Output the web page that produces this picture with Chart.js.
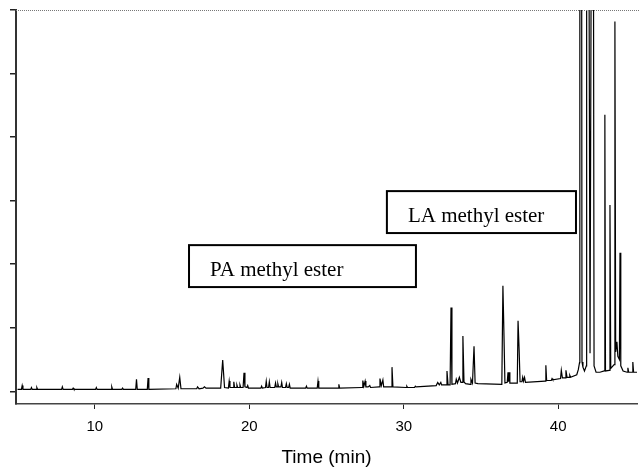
<!DOCTYPE html>
<html>
<head>
<meta charset="utf-8">
<script src="https://cdn.jsdelivr.net/npm/chart.js@4/dist/chart.umd.min.js"></script>
<style>
html,body{margin:0;padding:0;background:#fff;}
canvas{display:block;}
</style>
</head>
<body>
<canvas id="c" width="639" height="473"></canvas>
<script>
// Retention time (min) and detector signal (arbitrary units, axis 0..6)
const chromatogram = [
[5.0,0.03],[5.25,0.03],[5.3,0.09],[5.35,0.03],[5.85,0.03],[5.9,0.06],[5.95,0.03],
[6.2,0.03],[6.25,0.06],[6.3,0.03],[7.85,0.03],[7.9,0.07],[7.95,0.03],[8.55,0.03],
[8.6,0.05],[8.65,0.03],[10.05,0.03],[10.1,0.06],[10.15,0.03],[11.05,0.03],[11.1,0.07],
[11.15,0.03],[11.75,0.03],[11.8,0.05],[11.85,0.03],[12.65,0.03],[12.7,0.19],[12.75,0.03],
[13.4,0.03],[13.45,0.21],[13.5,0.03],[15.25,0.04],[15.3,0.11],[15.4,0.05],[15.5,0.22],
[15.58,0.04],[16.6,0.04],[16.65,0.07],[16.75,0.04],[17.0,0.05],[17.1,0.07],[17.2,0.05],
[18.15,0.05],[18.28,0.49],[18.4,0.06],[18.65,0.05],[18.7,0.16],[18.75,0.06],[18.95,0.06],
[19.0,0.15],[19.05,0.06],[19.15,0.06],[19.2,0.10],[19.25,0.06],[19.35,0.06],[19.4,0.10],
[19.45,0.06],[19.6,0.06],[19.66,0.29],[19.72,0.07],[19.85,0.06],[19.9,0.09],[19.95,0.05],
[20.75,0.05],[20.8,0.08],[20.85,0.05],[21.05,0.06],[21.1,0.16],[21.15,0.06],[21.25,0.06],
[21.3,0.15],[21.35,0.06],[21.65,0.06],[21.7,0.13],[21.75,0.07],[21.8,0.07],[21.85,0.12],
[21.9,0.07],[22.05,0.07],[22.1,0.14],[22.15,0.06],[22.35,0.06],[22.4,0.12],[22.45,0.06],
[22.55,0.06],[22.6,0.11],[22.65,0.05],[23.65,0.05],[23.7,0.08],[23.75,0.05],[24.4,0.05],
[24.45,0.16],[24.5,0.05],[25.75,0.05],[25.8,0.11],[25.85,0.05],[27.3,0.06],[27.35,0.17],
[27.42,0.08],[27.5,0.16],[27.55,0.07],[27.7,0.07],[27.8,0.09],[27.85,0.06],[28.4,0.07],
[28.46,0.20],[28.55,0.09],[28.65,0.18],[28.7,0.07],[29.18,0.07],[29.24,0.38],[29.3,0.07],
[30.15,0.06],[30.2,0.08],[30.25,0.06],[30.7,0.06],[30.75,0.08],[30.8,0.07],[32.1,0.09],
[32.2,0.14],[32.3,0.10],[32.4,0.14],[32.45,0.10],[32.75,0.10],[32.8,0.32],[32.87,0.10],
[33.0,0.10],[33.06,1.32],[33.12,0.11],[33.35,0.12],[33.4,0.19],[33.48,0.13],[33.6,0.22],
[33.7,0.14],[33.78,0.14],[33.83,0.87],[33.9,0.15],[34.0,0.12],[34.3,0.11],[34.35,0.19],
[34.45,0.13],[34.55,0.71],[34.62,0.13],[34.8,0.12],[36.35,0.11],[36.42,1.66],[36.47,1.10],
[36.55,0.13],[36.7,0.14],[36.75,0.30],[36.78,0.15],[36.82,0.30],[36.87,0.13],[37.35,0.13],
[37.4,1.11],[37.47,0.65],[37.53,0.15],[37.65,0.15],[37.7,0.22],[37.75,0.16],[37.82,0.22],
[37.88,0.14],[39.15,0.16],[39.2,0.41],[39.25,0.17],[39.55,0.17],[39.6,0.20],[39.65,0.18],
[40.15,0.20],[40.2,0.33],[40.27,0.21],[40.45,0.21],[40.5,0.33],[40.57,0.22],[40.7,0.22],
[40.75,0.25],[40.8,0.22],[41.2,0.26],[41.3,0.34],[41.38,0.45],[41.40,9.0],[41.51,9.0],
[41.54,0.46],[41.6,0.38],[41.7,0.32],[41.82,0.4],[41.84,9.0],[41.97,9.0],[42.06,0.6],
[42.16,9.0],[42.27,9.0],[42.32,0.4],[42.45,0.3],[42.7,0.3],[42.98,0.32],[43.02,4.35],
[43.06,0.32],[43.3,0.33],[43.35,2.93],[43.4,0.36],[43.62,0.42],[43.67,5.82],[43.72,0.62],
[43.8,0.78],[43.86,0.55],[43.96,0.5],[44.0,2.18],[44.05,0.4],[44.2,0.32],[44.46,0.3],
[44.51,0.37],[44.56,0.3],[44.78,0.3],[44.83,0.46],[44.88,0.3],[45.1,0.3]
];
const xTickValues = [10, 20, 30, 40];
const xTickLabels = ['10', '20', '30', '40'];
const yTickValues = [0, 1, 2, 3, 4, 5, 6];
const xTitle = 'Time (min)';
// Annotation boxes in data units: [label, xStart, xEnd, yBottom, yTop]
const boxLabels = ['PA methyl ester', 'LA methyl ester'];
const boxX = [[16.1, 30.79], [28.91, 41.15]];
const boxY = [[1.64, 2.30], [2.49, 3.15]];

const annotationPlugin = {
  id: 'boxes',
  afterDatasetsDraw(chart) {
    const {ctx, chartArea, scales} = chart;
    ctx.save();
    // top dotted border
    ctx.strokeStyle = '#777';
    ctx.lineWidth = 1;
    ctx.setLineDash([1, 1]);
    ctx.beginPath();
    ctx.moveTo(chartArea.left, Math.round(chartArea.top) + 0.5);
    ctx.lineTo(chart.width, Math.round(chartArea.top) + 0.5);
    ctx.stroke();
    ctx.setLineDash([]);
    for (let i = 0; i < boxLabels.length; i++) {
      const x0 = scales.x.getPixelForValue(boxX[i][0]);
      const x1 = scales.x.getPixelForValue(boxX[i][1]);
      const y0 = scales.y.getPixelForValue(boxY[i][1]);
      const y1 = scales.y.getPixelForValue(boxY[i][0]);
      ctx.fillStyle = '#fff';
      ctx.fillRect(x0, y0, x1 - x0, y1 - y0);
      ctx.strokeStyle = '#000';
      ctx.lineWidth = 2;
      ctx.strokeRect(x0, y0, x1 - x0, y1 - y0);
      ctx.fillStyle = '#000';
      ctx.font = '21px "Liberation Serif", "Times New Roman", serif';
      ctx.textBaseline = 'alphabetic';
      ctx.textAlign = 'left';
      ctx.fillText(boxLabels[i], x0 + 21, (y0 + y1) / 2 + 9.5);
    }
    ctx.restore();
  }
};

new Chart(document.getElementById('c'), {
  type: 'line',
  data: {
    datasets: [{
      data: chromatogram.map(p => ({x: p[0], y: p[1]})),
      borderColor: '#000',
      borderWidth: 1.2,
      pointRadius: 0,
      tension: 0,
      fill: false
    }]
  },
  options: {
    responsive: false,
    animation: false,
    devicePixelRatio: 1,
    layout: {padding: {top: 10, right: 2, left: 0, bottom: 0}},
    plugins: {legend: {display: false}, tooltip: {enabled: false}},
    scales: {
      x: {
        type: 'linear',
        min: 4.9,
        max: 45.1,
        afterBuildTicks: s => { s.ticks = xTickValues.map(v => ({value: v})); },
        afterFit: s => { s.height = 69; },
        ticks: {
          callback: (v) => { const i = xTickValues.indexOf(v); return i >= 0 ? xTickLabels[i] : ''; },
          color: '#000',
          font: {family: '"Liberation Sans", Arial, sans-serif', size: 15},
          padding: 9,
          maxRotation: 0,
          autoSkip: false
        },
        grid: {drawOnChartArea: false, drawTicks: true, tickLength: 5, color: '#222', lineWidth: 1},
        border: {display: true, color: '#444', width: 1.5},
        title: {
          display: true,
          text: xTitle,
          color: '#000',
          font: {family: '"Liberation Sans", Arial, sans-serif', size: 19},
          padding: {top: 0, bottom: 4}
        }
      },
      y: {
        type: 'linear',
        min: -0.2,
        max: 6,
        afterBuildTicks: s => { s.ticks = yTickValues.map(v => ({value: v})); },
        afterFit: s => { s.width = 16; },
        ticks: {display: false},
        grid: {drawOnChartArea: false, drawTicks: true, tickLength: 6, color: '#222', lineWidth: 1.5},
        border: {display: true, color: '#333', width: 2}
      }
    }
  },
  plugins: [annotationPlugin]
});
</script>
</body>
</html>
